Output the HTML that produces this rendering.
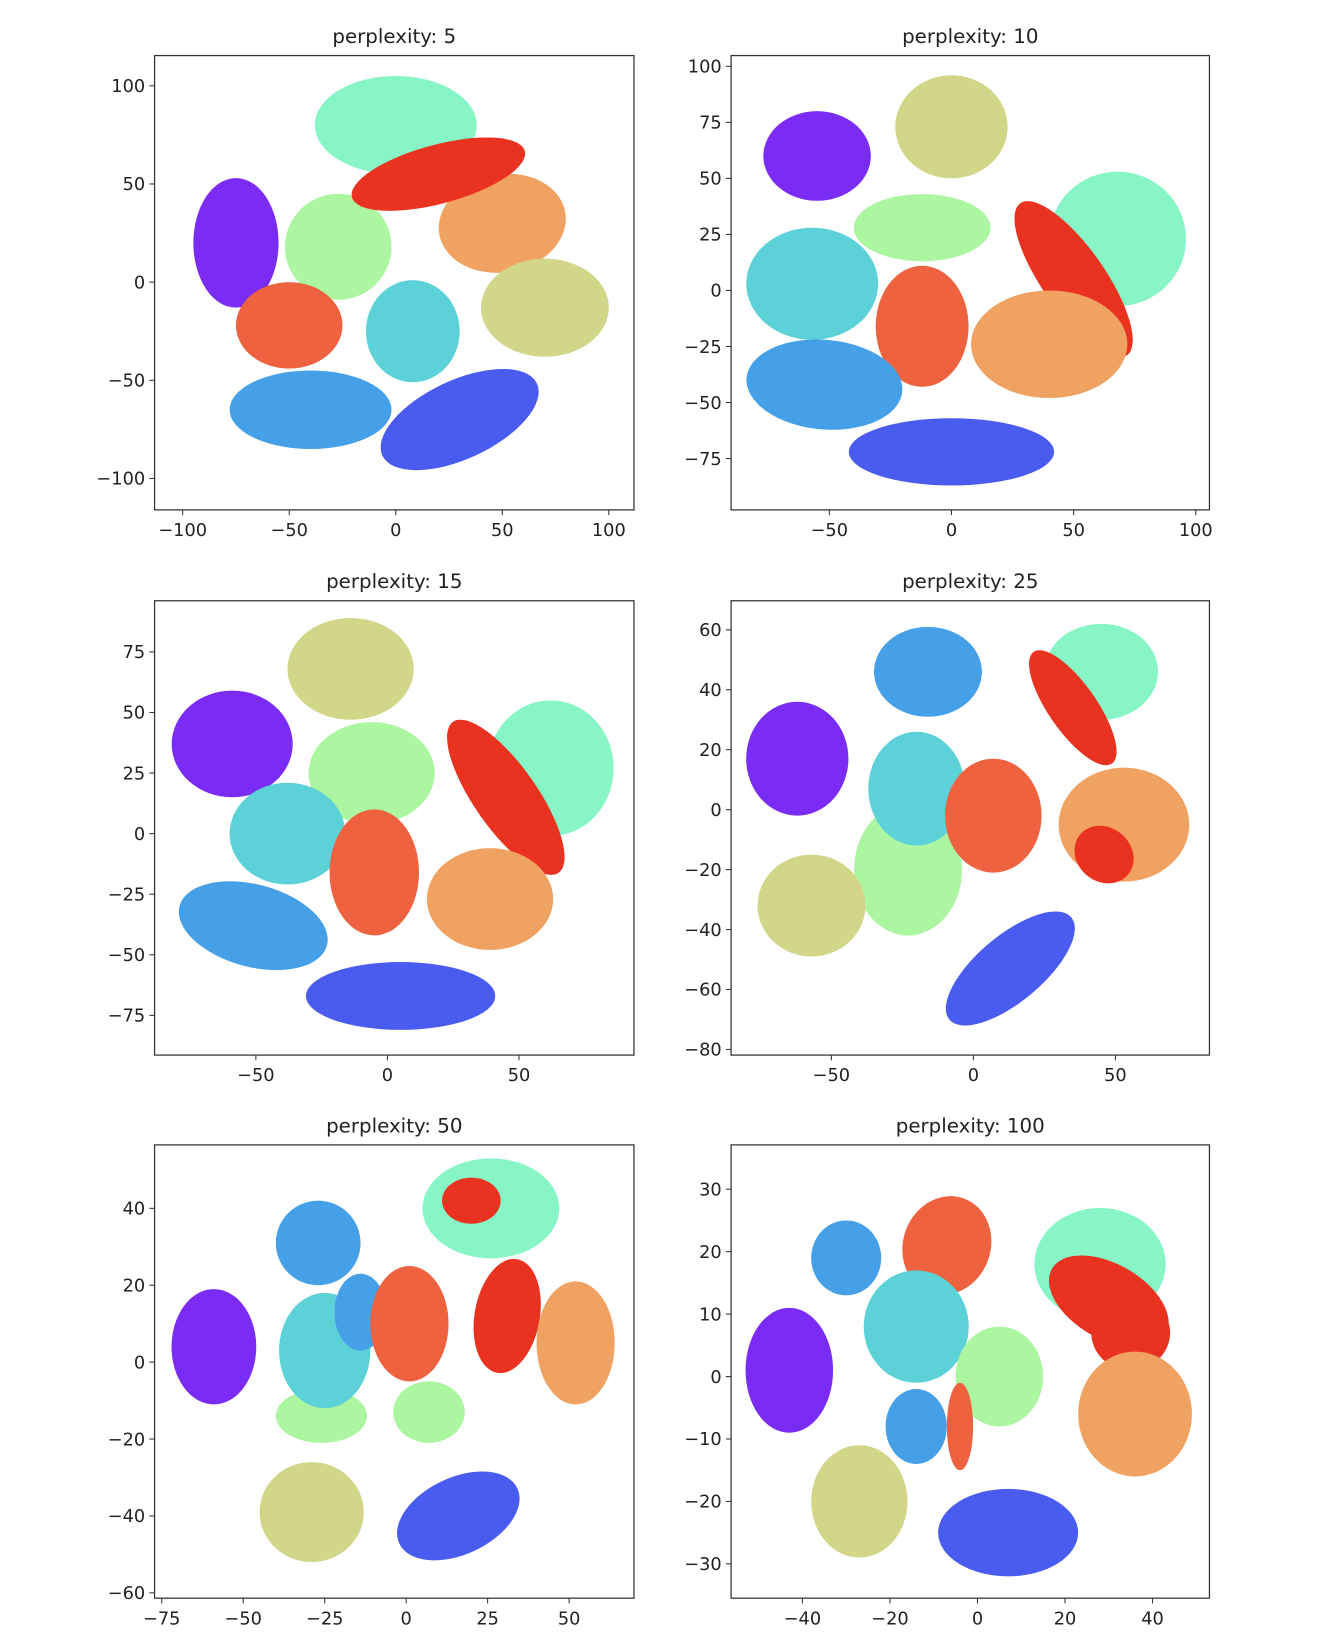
<!DOCTYPE html>
<html><head><meta charset="utf-8">
<style>
html,body{margin:0;padding:0;background:#fff;}
svg{display:block;}
text{font-family:"DejaVu Sans","Liberation Sans",sans-serif;fill:#222;}
</style></head>
<body>
<svg id="fig" width="1340" height="1636" viewBox="0 0 1283 1566" xmlns="http://www.w3.org/2000/svg"></svg>
<script>
// colours of the 10 classes (rainbow colormap)
const classColors = ["#7a2cf5","#4a5cf0","#46a0e8","#5cd2d8","#88f5c6","#acf6a2","#d2d689","#f0a263","#ee623f","#ea3220"];
// panel titles
const titles = ["perplexity: 5","perplexity: 10","perplexity: 15","perplexity: 25","perplexity: 50","perplexity: 100"];
// axis limits
const xLims = [[-113.2,111.8],[-90.2,105.6],[-88.5,93.7],[-85.3,83.1],[-77.2,69.9],[-56.3,53.0]];
const yLims = [[-116,115.4],[-97.9,104.8],[-91.4,96.1],[-81.9,69.7],[-61.4,56.5],[-35.5,37.1]];
// tick values
const xTicks = [[-100,-50,0,50,100],[-50,0,50,100],[-50,0,50],[-50,0,50],[-75,-50,-25,0,25,50],[-40,-20,0,20,40]];
const yTicks = [[-100,-50,0,50,100],[-75,-50,-25,0,25,50,75,100],[-75,-50,-25,0,25,50,75],[-80,-60,-40,-20,0,20,40,60],[-60,-40,-20,0,20,40],[-30,-20,-10,0,10,20,30]];
// clusters per panel: [class, cx, cy, rx, ry, angle]
const p1Clusters = [[0,-75,20,20,33,0],[4,0,80,38,25,0],[5,-27,18,25,27,0],[7,50,30,30,25,10],[9,20,55,42,15,15],[6,70,-13,30,25,0],[8,-50,-22,25,22,0],[3,8,-25,22,26,0],[2,-40,-65,38,20,0],[1,30,-70,40,20,25]];
const p2Clusters = [[0,-55,60,22,20,0],[6,0,73,23,23,0],[4,68,23,28,30,0],[5,-12,28,28,15,0],[9,50,5,38,14,-55],[3,-57,3,27,25,0],[8,-12,-16,19,27,0],[7,40,-24,32,24,0],[2,-52,-42,32,20,-5],[1,0,-72,42,15,0]];
const p3Clusters = [[6,-14,68,24,21,0],[0,-59,37,23,22,0],[5,-6,25,24,21,0],[4,62,27,24,28,0],[9,45,15,35,13,-55],[3,-38,0,22,21,0],[8,-5,-16,17,26,0],[7,39,-27,24,21,0],[2,-51,-38,29,17,-15],[1,5,-67,36,14,0]];
const p4Clusters = [[2,-16,46,19,15,0],[4,45,46,20,16,0],[9,35,34,24,8,-55],[0,-62,17,18,19,0],[5,-23,-20,19,22,0],[3,-20,7,17,19,0],[8,7,-2,17,19,0],[7,53,-5,23,19,0],[9,46,-15,11,9,-40],[6,-57,-32,19,17,0],[1,13,-53,28,11,40]];
const p5Clusters = [[0,-59,4,13,15,0],[2,-27,31,13,11,0],[5,-26,-14,14,7,0],[5,7,-13,11,8,0],[3,-25,3,14,15,0],[2,-14,13,8,10,0],[8,1,10,12,15,0],[4,26,40,21,13,0],[9,31,12,10,15,-10],[9,20,42,9,6,0],[7,52,5,12,16,0],[6,-29,-39,16,13,0],[1,16,-40,20,10,25]];
const p6Clusters = [[0,-43,1,10,10,0],[2,-30,19,8,6,0],[8,-7,21,10,8,-20],[4,28,18,15,9,0],[9,30,12,15,6,-30],[9,35,7,9,6,0],[3,-14,8,12,9,0],[5,5,0,10,8,0],[7,36,-6,13,10,0],[2,-14,-8,7,6,0],[8,-4,-8,3,7,0],[6,-27,-20,11,9,0],[1,7,-25,16,7,0]];
const allClusters = [p1Clusters,p2Clusters,p3Clusters,p4Clusters,p5Clusters,p6Clusters];

// layout (in viewBox units)
const boxL = [148,700,148,700,148,700], boxR = [607,1158,607,1158,607,1158];
const boxT = [53,53,575,575,1096,1096], boxB = [488,488,1010,1010,1530,1530];

const NS = "http://www.w3.org/2000/svg";
const fig = document.getElementById('fig');
function mk(tag, attrs, parent){const e=document.createElementNS(NS,tag);for(const k in attrs)e.setAttribute(k,attrs[k]);parent.appendChild(e);return e;}

for(let p=0;p<6;p++){
  const L=boxL[p],R=boxR[p],T=boxT[p],B=boxB[p];
  const xs=v=>L+(v-xLims[p][0])/(xLims[p][1]-xLims[p][0])*(R-L);
  const ys=v=>B-(v-yLims[p][0])/(yLims[p][1]-yLims[p][0])*(B-T);
  const sx=(R-L)/(xLims[p][1]-xLims[p][0]), sy=(B-T)/(yLims[p][1]-yLims[p][0]);
  const g=mk('g',{},fig);
  
  
  const clip=mk('clipPath',{id:'clip'+p},g);
  mk('rect',{x:L,y:T,width:R-L,height:B-T},clip);
  const cg=mk('g',{'clip-path':'url(#clip'+p+')'},g);
  allClusters[p].forEach((c,i)=>{
    const cx=xs(c[1]),cy=ys(c[2]);
    const e=mk('ellipse',{cx:cx,cy:cy,rx:c[3]*sx,ry:c[4]*sy,fill:classColors[c[0]],transform:'rotate('+(-c[5])+' '+cx+' '+cy+')'},cg);
    
    
  });
  const frame=mk('rect',{x:L,y:T,width:R-L,height:B-T,fill:'none',stroke:'#333','stroke-width':1.2},g);
  
  
  xTicks[p].forEach(v=>{
    const x=xs(v);
    mk('line',{x1:x,x2:x,y1:B,y2:B+5,stroke:'#333','stroke-width':1},g);
    const t=mk('text',{x:x,y:B+25,'text-anchor':'middle','font-size':17},g);
    t.textContent=(v<0?'\u2212'+(-v):String(v));
    
    
  });
  yTicks[p].forEach(v=>{
    const y=ys(v);
    mk('line',{x1:L-5,x2:L,y1:y,y2:y,stroke:'#333','stroke-width':1},g);
    const t=mk('text',{x:L-9,y:y+6,'text-anchor':'end','font-size':17},g);
    t.textContent=(v<0?'\u2212'+(-v):String(v));
    
    
  });
  const tt=mk('text',{x:(L+R)/2,y:T-12,'text-anchor':'middle','font-size':19},g);
  tt.textContent=titles[p];
  
  
}
</script>
</body></html>
